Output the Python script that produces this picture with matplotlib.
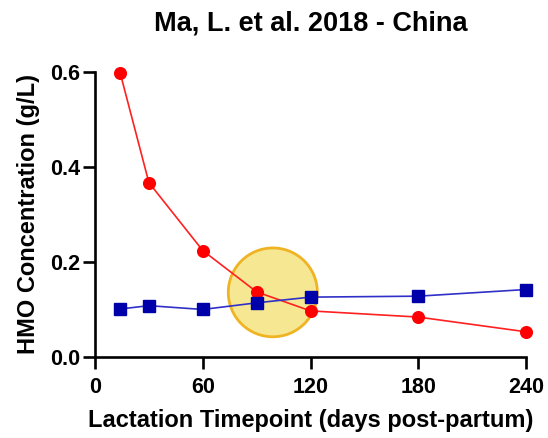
import matplotlib.pyplot as plt
from matplotlib.patches import Ellipse

plt.rcParams['font.family'] = 'Liberation Sans'
plt.rcParams['font.weight'] = 'bold'

# Lactation timepoints (days) and HMO concentrations (g/L)
days = [14, 30, 60, 90, 120, 180, 240]
red_series = [0.598, 0.367, 0.224, 0.137, 0.097, 0.084, 0.053]
blue_series = [0.101, 0.108, 0.100, 0.114, 0.126, 0.128, 0.142]

fig = plt.figure(figsize=(5.48, 4.38), dpi=100)
ax = fig.add_axes([0.1734, 0.185, 0.7865, 0.6507])

# highlight circle around the crossover
ax.add_patch(Ellipse((99, 0.136), width=49.6, height=0.187,
                     facecolor='#f6e893', edgecolor='#efb324', linewidth=2,
                     zorder=1, clip_on=False))

ax.plot(days, red_series, color='#ff2020', marker='o', markersize=8.4,
        markerfacecolor='#ff0000', markeredgecolor='#ff0000',
        linewidth=1.2, zorder=3, clip_on=False)
ax.plot(days, blue_series, color='#3030c8', marker='s', markersize=8.6,
        markerfacecolor='#0000aa', markeredgecolor='#0000aa',
        linewidth=1.2, zorder=3, clip_on=False)

ax.set_xlim(0, 240)
ax.set_ylim(0, 0.6)
ax.set_xticks([0, 60, 120, 180, 240])
ax.set_yticks([0.0, 0.2, 0.4, 0.6])
ax.set_yticklabels(['0.0', '0.2', '0.4', '0.6'])

for side in ['top', 'right']:
    ax.spines[side].set_visible(False)
for side in ['left', 'bottom']:
    ax.spines[side].set_linewidth(1.9)
ax.tick_params(width=1.9, length=8.6, labelsize=15.5)
ax.tick_params(axis='x', pad=6)
ax.tick_params(axis='y', pad=2)

ax.set_title('Ma, L. et al. 2018 - China', fontsize=19.5, fontweight='bold', pad=30)
ax.set_xlabel('Lactation Timepoint (days post-partum)', fontsize=17, fontweight='bold', labelpad=8)
ax.set_ylabel('HMO Concentration (g/L)', fontsize=17, fontweight='bold', labelpad=7)

plt.savefig('out.png', dpi=100)
